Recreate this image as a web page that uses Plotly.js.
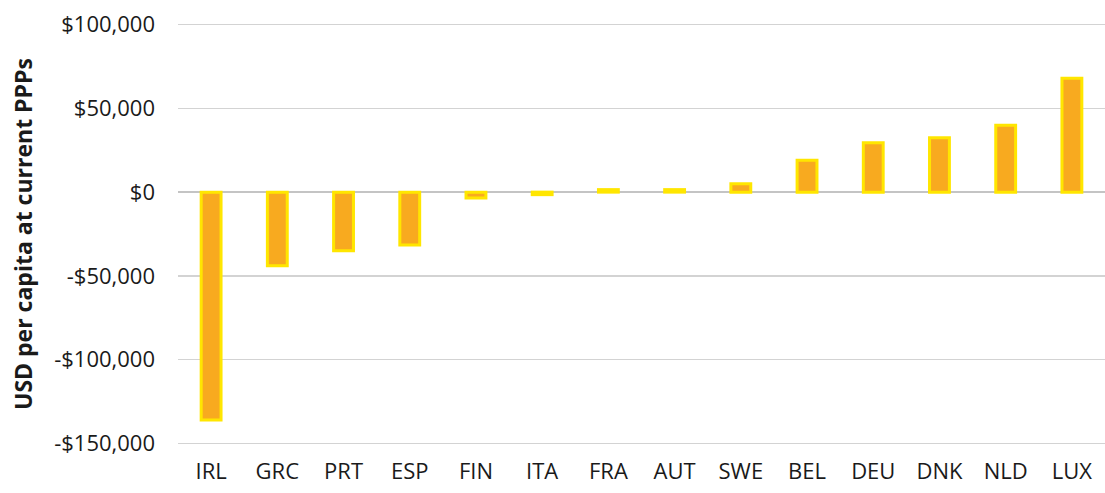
<!DOCTYPE html>
<html>
<head>
<meta charset="utf-8">
<script src="https://cdn.plot.ly/plotly-3.0.1.min.js"></script>
<style>
  html, body { margin: 0; padding: 0; background: #fff; }
  #chart { width: 1105px; height: 493px; }
</style>
</head>
<body>
<div id="chart"></div>
<script>
const countries = ["IRL", "GRC", "PRT", "ESP", "FIN", "ITA", "FRA", "AUT", "SWE", "BEL", "DEU", "DNK", "NLD", "LUX"];
const values = [-136000, -44000, -35000, -31500, -3500, -1500, 1500, 1500, 5000, 19000, 29500, 32500, 40000, 68000];
const yTickVals = [-150000, -100000, -50000, 0, 50000, 100000];
const yTickText = ["-$150,000", "-$100,000", "-$50,000", "$0", "$50,000", "$100,000"];
const yAxisTitle = "USD per capita at current PPPs";

const trace = {
  type: "bar",
  x: countries,
  y: values,
  width: 0.3,
  marker: {
    color: "#F8AA1F",
    line: { color: "#FFE600", width: 3 }
  },
  hoverinfo: "x+y"
};

const layout = {
  width: 1105,
  height: 493,
  margin: { l: 178, r: 0, t: 23, b: 48, pad: 0 },
  paper_bgcolor: "#ffffff",
  plot_bgcolor: "#ffffff",
  showlegend: false,
  font: { family: "Open Sans, Liberation Sans, sans-serif", color: "#1a1a1a" },
  xaxis: {
    type: "category",
    range: [-0.5, 13.5],
    showgrid: false,
    showline: false,
    zeroline: false,
    ticks: "",
    ticklabelstandoff: 11,
    tickfont: { size: 22, family: "Open Sans, sans-serif", color: "#1a1a1a" },
    fixedrange: true
  },
  yaxis: {
    range: [-151000, 101000],
    tickvals: yTickVals,
    ticktext: yTickText,
    showgrid: true,
    gridcolor: "#d3d3d3",
    gridwidth: 1.5,
    zeroline: true,
    zerolinecolor: "#c4c4c4",
    zerolinewidth: 2,
    showline: false,
    ticks: "",
    ticklabelstandoff: 22,
    tickfont: { size: 22, family: "Open Sans, sans-serif", color: "#1a1a1a" },
    fixedrange: true
  },
  annotations: [{
    text: yAxisTitle,
    xref: "paper",
    yref: "paper",
    x: (23 - 178) / 927,
    y: 0.5,
    xanchor: "center",
    yanchor: "middle",
    textangle: -90,
    showarrow: false,
    font: { size: 23, family: "Open Sans, sans-serif", color: "#1a1a1a", weight: "bold" }
  }]
};

Plotly.newPlot("chart", [trace], layout, { displayModeBar: false, staticPlot: true });
</script>
</body>
</html>
